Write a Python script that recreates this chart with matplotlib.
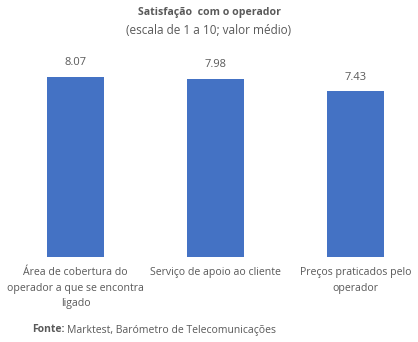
import matplotlib.pyplot as plt

categories = ["Área de cobertura do\noperador a que se encontra\nligado",
              "Serviço de apoio ao cliente",
              "Preços praticados pelo\noperador"]
values = [8.07, 7.98, 7.43]
value_labels = ["8.07", "7.98", "7.43"]

plt.rcParams['font.family'] = ['Open Sans', 'DejaVu Sans']
text_color = "#595959"
bar_color = "#4472C4"

W, H = 418, 342
fig = plt.figure(figsize=(W / 100, H / 100), dpi=100)

# axes covers x 0..418 px, y from baseline (257) up to 56
ax = fig.add_axes([0, (H - 257) / H, 1, (257 - 56) / H])
px_per_cat = 140.0
x0 = -75.5 / px_per_cat
ax.set_xlim(x0, x0 + W / px_per_cat)
ax.set_ylim(0, 9)

pos = range(len(categories))
ax.bar(pos, values, width=57 / px_per_cat, color=bar_color)
for p, v, lab in zip(pos, values, value_labels):
    ax.annotate(lab, (p, v), xytext=(0, 6), textcoords="offset points",
                ha="center", va="bottom", fontsize=8, color=text_color)

ax.set_xticks(list(pos))
ax.set_xticklabels(categories, fontsize=7.6, color=text_color, linespacing=1.6)
ax.tick_params(axis="x", length=0, pad=7)
ax.set_yticks([])
for s in ax.spines.values():
    s.set_visible(False)

fig.text(0.5, 1 - 13 / H, "Satisfação  com o operador", ha="center", va="center",
         fontsize=7.6, fontweight="bold", color=text_color)
fig.text(0.5, 1 - 30 / H, "(escala de 1 a 10; valor médio)", ha="center", va="center",
         fontsize=8.5, color=text_color)
fig.text(32 / W, 1 - 330 / H, "Fonte:", ha="left", va="center",
         fontsize=7.5, fontweight="bold", color=text_color)
fig.text(67 / W, 1 - 330 / H, "Marktest, Barómetro de Telecomunicações", ha="left", va="center",
         fontsize=7.5, color=text_color)

fig.savefig("out.png", dpi=100, facecolor="white")
